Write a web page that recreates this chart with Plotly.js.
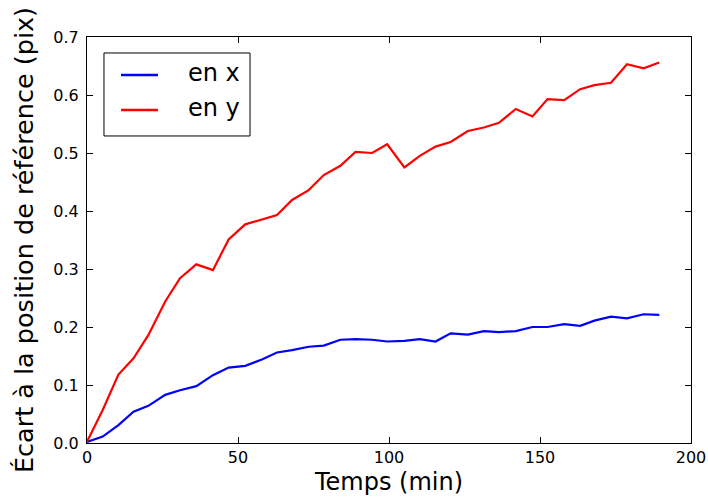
<!DOCTYPE html>
<html>
<head>
<meta charset="utf-8">
<script src="https://cdn.plot.ly/plotly-3.0.1.min.js"></script>
<style>html,body{margin:0;padding:0;background:#fff;}#chart{width:708px;height:504px;}</style>
</head>
<body>
<div id="chart"></div>
<script>
const temps = [0, 5.2, 10.4, 15.4, 20.3, 25.9, 30.8, 36.2, 41.7, 46.9, 52.4, 57.9, 62.9, 67.9, 73.4, 78.4, 83.9, 88.9, 94.4, 99.4,
  105.1, 110.2, 115.4, 120.4, 126.1, 131.4, 136.4, 142.0, 147.5, 152.5, 158.0, 163.3, 168.0, 173.5, 178.8, 184.3, 189.5];
const ecartX = [0.002, 0.011, 0.031, 0.054, 0.064, 0.083, 0.091, 0.098, 0.117, 0.130, 0.133, 0.144, 0.156, 0.160, 0.166, 0.168, 0.178, 0.179, 0.178, 0.175,
  0.176, 0.179, 0.175, 0.189, 0.187, 0.193, 0.191, 0.193, 0.200, 0.200, 0.205, 0.202, 0.211, 0.218, 0.215, 0.222, 0.221];
const ecartY = [0.002, 0.057, 0.118, 0.146, 0.186, 0.244, 0.284, 0.308, 0.298, 0.351, 0.377, 0.386, 0.393, 0.419, 0.436, 0.462, 0.478, 0.502, 0.500, 0.515,
  0.475, 0.495, 0.511, 0.519, 0.538, 0.544, 0.552, 0.576, 0.563, 0.593, 0.591, 0.610, 0.617, 0.621, 0.653, 0.646, 0.656];
const seriesNames = ['en x', 'en y'];
const seriesColors = ['#0000ff', '#ff0000'];
const xTicks = [0, 50, 100, 150, 200];
const yTicks = [0, 0.1, 0.2, 0.3, 0.4, 0.5, 0.6, 0.7];
const yTickText = ['0.0', '0.1', '0.2', '0.3', '0.4', '0.5', '0.6', '0.7'];

const FAM = 'DejaVu Sans, sans-serif';
const traces = [
  {x: temps, y: ecartX, name: seriesNames[0], mode: 'lines', line: {color: seriesColors[0], width: 2.2}, showlegend: false},
  {x: temps, y: ecartY, name: seriesNames[1], mode: 'lines', line: {color: seriesColors[1], width: 2.2}, showlegend: false}
];

// legend box drawn in paper coordinates (matplotlib-style legend)
const legBox = {x0: 0.0281, x1: 0.2699, y0: 0.7562, y1: 0.9606};
const legRowsY = [0.9064, 0.8202];
const legLineX = [0.0563, 0.1175];
const legTextX = 0.1639;
const shapes = [
  {type: 'rect', xref: 'paper', yref: 'paper', x0: legBox.x0, x1: legBox.x1, y0: legBox.y0, y1: legBox.y1,
   line: {color: '#000', width: 1}, fillcolor: '#fff', layer: 'above'}
];
const annotations = [];
seriesNames.forEach((n, i) => {
  shapes.push({type: 'line', xref: 'paper', yref: 'paper', x0: legLineX[0], x1: legLineX[1], y0: legRowsY[i], y1: legRowsY[i],
    line: {color: seriesColors[i], width: 2.5}, layer: 'above'});
  annotations.push({xref: 'paper', yref: 'paper', x: legTextX, y: legRowsY[i] + 0.005, xanchor: 'left', yanchor: 'middle',
    text: n, showarrow: false, font: {family: FAM, size: 24, color: '#000'}});
});

const layout = {
  width: 708, height: 504,
  margin: {l: 87, r: 17, t: 37, b: 61, pad: 0},
  paper_bgcolor: '#fff', plot_bgcolor: '#fff',
  font: {family: FAM, color: '#000'},
  showlegend: false,
  shapes: shapes,
  annotations: annotations,
  xaxis: {range: [0, 200], tickvals: xTicks, ticktext: xTicks.map(String), ticks: 'inside', ticklen: 6, tickcolor: '#000',
    showline: true, linecolor: '#000', linewidth: 1, mirror: 'allticks', showgrid: false, zeroline: false,
    tickfont: {family: FAM, size: 16, color: '#000'},
    title: {text: 'Temps (min)', font: {family: FAM, size: 24, color: '#000'}, standoff: 6}},
  yaxis: {range: [0, 0.7], tickvals: yTicks, ticktext: yTickText, ticks: 'inside', ticklen: 6, tickcolor: '#000',
    showline: true, linecolor: '#000', linewidth: 1, mirror: 'allticks', showgrid: false, zeroline: false,
    ticklabelstandoff: 4,
    tickfont: {family: FAM, size: 16, color: '#000'},
    title: {text: 'Écart à la position de référence (pix)', font: {family: FAM, size: 25.5, color: '#000'}, standoff: 12}}
};
Plotly.newPlot('chart', traces, layout, {displayModeBar: false, staticPlot: true});
</script>
</body>
</html>
